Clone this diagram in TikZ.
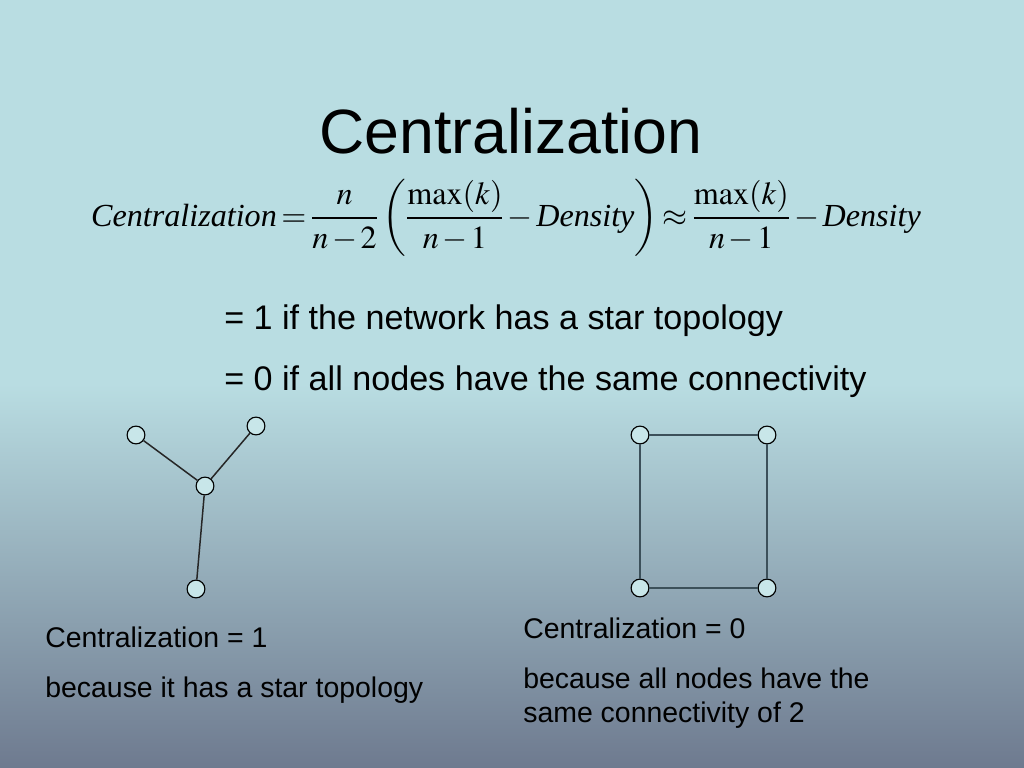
\documentclass[tikz,border=0pt]{standalone}
\usepackage{mathptmx}
\usepackage[no-math]{fontspec}
\setmainfont{Liberation Sans}
\newfontfamily\timesfam{Liberation Serif}
\definecolor{bgtop}{RGB}{185,221,226}
\definecolor{bgbot}{RGB}{110,122,143}
\definecolor{nodefill}{RGB}{200,230,233}
\definecolor{sqedge}{RGB}{60,80,90}
\begin{document}
\begin{tikzpicture}[x=0.703125pt,y=-0.703125pt,
  vtx/.style={circle,draw=black,fill=nodefill,line width=0.8pt,minimum size=12.5pt,inner sep=0pt},
  staredge/.style={draw=black!85,line width=1.05pt},
  sqline/.style={draw=sqedge,line width=1.5pt},
  title/.style={font=\fontsize{44}{50}\selectfont,anchor=base,inner sep=0pt},
  body/.style={font=\fontsize{24}{29}\selectfont,anchor=base west,inner sep=0pt},
  lbl/.style={font=\fontsize{20}{24}\selectfont,anchor=base west,inner sep=0pt}]
\useasboundingbox (0,0) rectangle (1024,768);
\fill[bgtop] (0,0) rectangle (1024,385);
\shade[top color=bgtop,bottom color=bgbot] (0,384) rectangle (1024,768);

\node[title] (t) at (511,154) {Centralization};

\node[inner sep=0pt] (f) at (506,218) {\fontsize{22.6}{27}\selectfont\thickmuskip=2.5mu\medmuskip=2mu
 $\displaystyle \mbox{\timesfam\itshape Centralization}=\frac{n}{n-2}\left(\frac{\max(k)}{n-1}-\mbox{\timesfam\itshape Density}\right)\approx\frac{\max(k)}{n-1}-\mbox{\timesfam\itshape Density}$};

\node[body] (l1) at (224,330) {= 1 if the network has a star topology};
\node[body] (l2) at (224,390) {= 0 if all nodes have the same connectivity};

\node[vtx] (a) at (136,435) {};
\node[vtx] (b) at (256,426) {};
\node[vtx] (c) at (205,486) {};
\node[vtx] (d) at (196,589) {};
\draw[staredge] (a) -- (c);
\draw[staredge] (b) -- (c);
\draw[staredge] (c) -- (d);

\node[vtx] (p) at (640,435) {};
\node[vtx] (q) at (767,435) {};
\node[vtx] (r) at (640,588) {};
\node[vtx] (s) at (767,588) {};
\draw[sqline] (p) -- (q);
\draw[sqline] (q) -- (s);
\draw[sqline] (s) -- (r);
\draw[sqline] (r) -- (p);

\node[lbl] (c1) at (45,647) {Centralization = 1};
\node[lbl] (c2) at (45,697) {because it has a star topology};
\node[lbl] (c3) at (523,638) {Centralization = 0};
\node[lbl] (c4) at (523,688) {because all nodes have the};
\node[lbl] (c5) at (523,722) {same connectivity of 2};
\end{tikzpicture}
\end{document}
